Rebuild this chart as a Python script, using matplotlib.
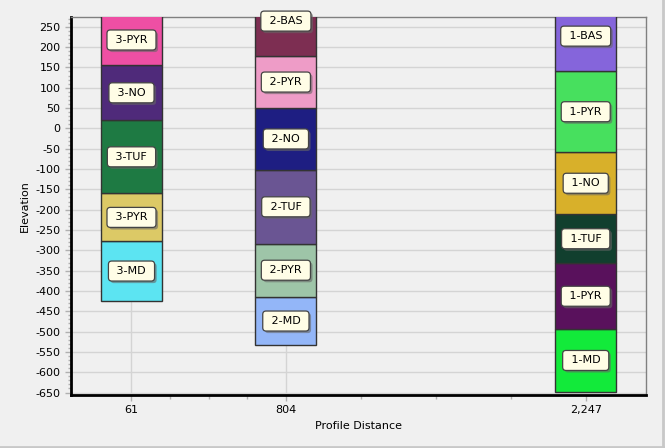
"""Stacked lithology columns along a profile: elevation of each unit at three
drill locations."""

import matplotlib

matplotlib.use("Agg")
import matplotlib.pyplot as plt
import matplotlib.patheffects as pe
import numpy as np

# profile positions of the three holes
distances = [61, 804, 2247]
distance_labels = ["61", "804", "2,247"]

# unit boundaries (bottom -> top) and names per hole
bounds_61 = [-424, -278, -160, 20, 155, 280]
units_61 = ["3-MD", "3-PYR", "3-TUF", "3-NO", "3-PYR"]
colors_61 = ["#5ce4f2", "#dcc966", "#1e7a43", "#4f2a7a", "#ee4fa4"]

bounds_804 = [-534, -414, -284, -102, 50, 178, 350]
units_804 = ["2-MD", "2-PYR", "2-TUF", "2-NO", "2-PYR", "2-BAS"]
colors_804 = ["#93b6f8", "#9ec5a8", "#6a5593", "#1e1e82", "#ee9cc7", "#7d2e52"]

bounds_2247 = [-648, -494, -332, -211, -59, 141, 313]
units_2247 = ["1-MD", "1-PYR", "1-TUF", "1-NO", "1-PYR", "1-BAS"]
colors_2247 = ["#12ea3a", "#59115c", "#113f2e", "#d8b02a", "#47e05e", "#8565db"]

columns = [
    (distances[0], bounds_61, units_61, colors_61),
    (distances[1], bounds_804, units_804, colors_804),
    (distances[2], bounds_2247, units_2247, colors_2247),
]

BG = "#f0f0f0"
COL_WIDTH = 294

plt.rcParams["axes.unicode_minus"] = False

fig = plt.figure(figsize=(6.65, 4.48), dpi=100, facecolor=BG)
ax = fig.add_axes([0.1068, 0.1183, 0.8646, 0.8437], facecolor=BG)

for x, bounds, units, colors in columns:
    b = np.array(bounds)
    ax.bar([x] * len(units), np.diff(b), bottom=b[:-1], width=COL_WIDTH,
           color=colors, edgecolor="#333333", linewidth=1, zorder=3)
    for lo, hi, name in zip(b[:-1], b[1:], units):
        t = ax.text(x, (lo + hi) / 2, f" {name} ", ha="center", va="center",
                    fontsize=8, color="black", zorder=5,
                    bbox=dict(boxstyle="round,pad=0.45,rounding_size=0.3",
                              facecolor="#fffde6", edgecolor="#444444", linewidth=0.9))
        t.get_bbox_patch().set_path_effects(
            [pe.SimplePatchShadow(offset=(1.5, -1.5), shadow_rgbFace="#666666", alpha=0.6),
             pe.Normal()])

ax.set_xlim(-230, 2537)
ax.set_ylim(-656, 274)

ax.set_xticks(distances)
ax.set_xticklabels(distance_labels)
minor_x = np.concatenate([np.linspace(distances[0], distances[1], 5)[1:-1],
                          np.linspace(distances[1], distances[2], 5)[1:-1]])
ax.set_xticks(minor_x, minor=True)
ax.set_yticks(np.arange(-650, 251, 50))
ax.set_yticks(np.arange(-650, 271, 10), minor=True)

ax.grid(True, which="major", color="#d4d4d4", linewidth=1, zorder=0)
ax.set_axisbelow(True)

ax.tick_params(axis="both", which="major", labelsize=8, color="#b0b0b0", length=4, width=1)
ax.tick_params(axis="y", which="minor", color="#b0b0b0", length=2, width=1)
ax.tick_params(axis="x", which="minor", color="#b0b0b0", length=3, width=1)

for side in ["left", "bottom"]:
    ax.spines[side].set_linewidth(2)
    ax.spines[side].set_color("black")
for side in ["top", "right"]:
    ax.spines[side].set_linewidth(1)
    ax.spines[side].set_color("#808080")

ax.set_xlabel("Profile Distance", fontsize=8, labelpad=4)
ax.set_ylabel("Elevation", fontsize=8, labelpad=4)

# thin window frame along the bottom and right edges
fig.add_artist(plt.Line2D([0, 1], [0.003, 0.003], color="#c8c8c8", linewidth=2))
fig.add_artist(plt.Line2D([0.997, 0.997], [0, 1], color="#c8c8c8", linewidth=2))

fig.savefig("out.png", dpi=100, facecolor=BG)
